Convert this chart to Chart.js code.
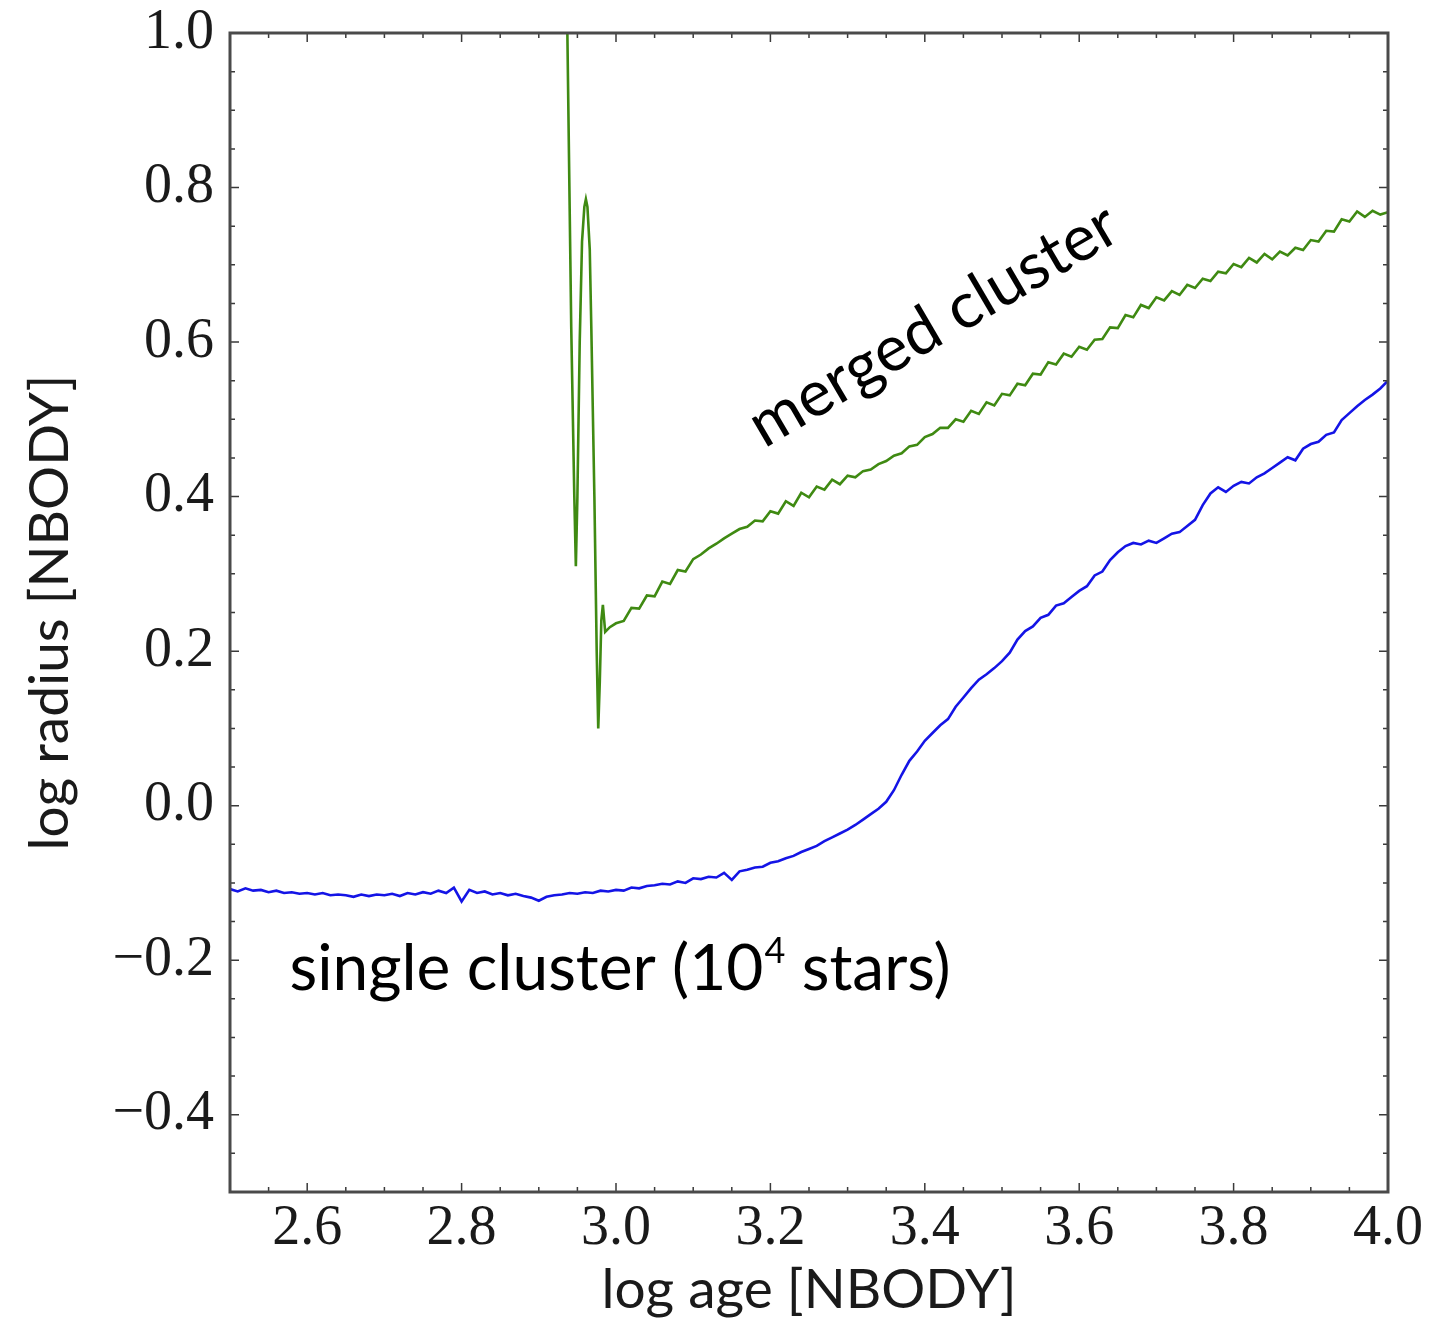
<!DOCTYPE html>
<html>
<head>
<meta charset="utf-8">
<script src="https://cdn.jsdelivr.net/npm/chart.js@4.4.1/dist/chart.umd.min.js"></script>
<style>
  body { margin: 0; background: #fff; }
  #wrap { width: 1438px; height: 1326px; position: relative; }
</style>
</head>
<body>
<div id="wrap"><canvas id="chart"></canvas></div>
<script>
// Axis ticks
const xTicks = [2.6, 2.8, 3.0, 3.2, 3.4, 3.6, 3.8, 4.0];
const yTicks = [-0.4, -0.2, 0.0, 0.2, 0.4, 0.6, 0.8, 1.0];

// single cluster (10^4 stars): [log age, log radius]
const singleCluster = [
  [2.50,-0.108],[2.51,-0.111],[2.52,-0.107],[2.53,-0.110],[2.54,-0.109],[2.55,-0.112],[2.56,-0.110],[2.57,-0.113],
  [2.58,-0.112],[2.59,-0.114],[2.60,-0.113],[2.61,-0.115],[2.62,-0.113],[2.63,-0.116],[2.64,-0.115],[2.65,-0.116],
  [2.66,-0.118],[2.67,-0.115],[2.68,-0.117],[2.69,-0.115],[2.70,-0.116],[2.71,-0.114],[2.72,-0.117],[2.73,-0.113],
  [2.74,-0.115],[2.75,-0.112],[2.76,-0.114],[2.77,-0.110],[2.78,-0.113],[2.79,-0.106],[2.80,-0.124],[2.81,-0.109],
  [2.82,-0.113],[2.83,-0.111],[2.84,-0.115],[2.85,-0.113],[2.86,-0.116],[2.87,-0.114],[2.88,-0.117],[2.89,-0.119],
  [2.90,-0.123],[2.91,-0.118],[2.92,-0.116],[2.93,-0.115],[2.94,-0.113],[2.95,-0.114],[2.96,-0.112],[2.97,-0.113],
  [2.98,-0.110],[2.99,-0.111],[3.00,-0.109],[3.01,-0.110],[3.02,-0.106],[3.03,-0.107],[3.04,-0.104],[3.05,-0.103],
  [3.06,-0.101],[3.07,-0.102],[3.08,-0.098],[3.09,-0.100],[3.10,-0.094],[3.11,-0.095],[3.12,-0.092],[3.13,-0.093],
  [3.14,-0.087],[3.15,-0.096],[3.16,-0.085],[3.17,-0.083],[3.18,-0.080],[3.19,-0.079],[3.20,-0.074],[3.21,-0.072],
  [3.22,-0.068],[3.23,-0.065],[3.24,-0.060],[3.25,-0.056],[3.26,-0.052],[3.27,-0.046],[3.28,-0.041],[3.29,-0.036],
  [3.30,-0.031],[3.31,-0.025],[3.32,-0.018],[3.33,-0.011],[3.34,-0.004],[3.35,0.005],[3.36,0.020],[3.37,0.040],
  [3.38,0.058],[3.39,0.070],[3.40,0.084],[3.41,0.094],[3.42,0.104],[3.43,0.112],[3.44,0.128],[3.45,0.140],
  [3.46,0.152],[3.47,0.163],[3.48,0.170],[3.49,0.178],[3.50,0.187],[3.51,0.198],[3.52,0.215],[3.53,0.226],
  [3.54,0.232],[3.55,0.243],[3.56,0.247],[3.57,0.259],[3.58,0.262],[3.59,0.270],[3.60,0.278],[3.61,0.284],
  [3.62,0.298],[3.63,0.303],[3.64,0.318],[3.65,0.328],[3.66,0.336],[3.67,0.340],[3.68,0.338],[3.69,0.343],
  [3.70,0.340],[3.71,0.346],[3.72,0.352],[3.73,0.354],[3.74,0.362],[3.75,0.370],[3.76,0.389],[3.77,0.404],
  [3.78,0.412],[3.79,0.406],[3.80,0.414],[3.81,0.419],[3.82,0.417],[3.83,0.425],[3.84,0.430],[3.85,0.437],
  [3.86,0.444],[3.87,0.451],[3.88,0.447],[3.89,0.462],[3.90,0.468],[3.91,0.471],[3.92,0.480],[3.93,0.483],
  [3.94,0.499],[3.95,0.508],[3.96,0.517],[3.97,0.525],[3.98,0.532],[3.99,0.540],[4.00,0.550]
];

// merged cluster: [log age, log radius]
const mergedCluster = [
  [2.937,1.000],[2.942,0.620],[2.946,0.400],[2.948,0.310],[2.950,0.400],[2.953,0.600],[2.956,0.730],[2.959,0.775],
  [2.961,0.785],[2.963,0.775],[2.966,0.720],[2.968,0.620],[2.972,0.400],[2.975,0.200],[2.977,0.100],[2.979,0.160],
  [2.981,0.240],[2.983,0.260],[2.986,0.225],[2.992,0.231],
  [3.00,0.236],[3.01,0.239],[3.02,0.256],[3.03,0.255],[3.04,0.272],[3.05,0.271],[3.06,0.290],[3.07,0.287],
  [3.08,0.305],[3.09,0.303],[3.10,0.319],[3.11,0.325],[3.12,0.333],[3.13,0.339],[3.14,0.346],[3.15,0.352],
  [3.16,0.358],[3.17,0.361],[3.18,0.369],[3.19,0.368],[3.20,0.381],[3.21,0.378],[3.22,0.394],[3.23,0.388],
  [3.24,0.405],[3.25,0.399],[3.26,0.413],[3.27,0.409],[3.28,0.422],[3.29,0.416],[3.30,0.427],[3.31,0.425],
  [3.32,0.433],[3.33,0.435],[3.34,0.442],[3.35,0.446],[3.36,0.453],[3.37,0.456],[3.38,0.465],[3.39,0.467],
  [3.40,0.477],[3.41,0.481],[3.42,0.489],[3.43,0.489],[3.44,0.500],[3.45,0.497],[3.46,0.511],[3.47,0.507],
  [3.48,0.522],[3.49,0.518],[3.50,0.533],[3.51,0.531],[3.52,0.546],[3.53,0.544],[3.54,0.559],[3.55,0.558],
  [3.56,0.574],[3.57,0.571],[3.58,0.585],[3.59,0.581],[3.60,0.594],[3.61,0.590],[3.62,0.603],[3.63,0.604],
  [3.64,0.619],[3.65,0.618],[3.66,0.635],[3.67,0.632],[3.68,0.648],[3.69,0.644],[3.70,0.658],[3.71,0.654],
  [3.72,0.666],[3.73,0.661],[3.74,0.674],[3.75,0.670],[3.76,0.682],[3.77,0.679],[3.78,0.691],[3.79,0.689],
  [3.80,0.701],[3.81,0.697],[3.82,0.709],[3.83,0.703],[3.84,0.714],[3.85,0.707],[3.86,0.717],[3.87,0.712],
  [3.88,0.722],[3.89,0.719],[3.90,0.732],[3.91,0.730],[3.92,0.744],[3.93,0.743],[3.94,0.759],[3.95,0.756],
  [3.96,0.769],[3.97,0.762],[3.98,0.770],[3.99,0.765],[4.00,0.768]
];

const toPoints = arr => arr.map(p => ({ x: p[0], y: p[1] }));
const fmt = v => v.toFixed(1).replace('-', '\u2212');

// frame, inward major/minor ticks on all sides, and the text labels
const framePlugin = {
  id: 'frame',
  afterDraw(chart) {
    const { ctx, chartArea: a, scales: { x, y } } = chart;
    ctx.save();
    ctx.strokeStyle = '#3a3a3a';
    ctx.lineWidth = 1.5;
    for (let i = 0; i <= 30; i++) {
      const v = 2.5 + i * 0.05;
      const px = x.getPixelForValue(v);
      const len = i % 4 === 2 ? 9 : 5;
      ctx.beginPath();
      ctx.moveTo(px, a.bottom); ctx.lineTo(px, a.bottom - len);
      ctx.moveTo(px, a.top); ctx.lineTo(px, a.top + len);
      ctx.stroke();
    }
    for (let i = 0; i <= 30; i++) {
      const v = -0.5 + i * 0.05;
      const py = y.getPixelForValue(v);
      const len = i % 4 === 2 ? 9 : 5;
      ctx.beginPath();
      ctx.moveTo(a.left, py); ctx.lineTo(a.left + len, py);
      ctx.moveTo(a.right, py); ctx.lineTo(a.right - len, py);
      ctx.stroke();
    }
    ctx.strokeStyle = '#4a4a4a';
    ctx.lineWidth = 3;
    ctx.strokeRect(a.left, a.top, a.right - a.left, a.bottom - a.top);

    // curve labels
    ctx.fillStyle = '#000';
    ctx.textBaseline = 'alphabetic';
    ctx.font = '64px Lato';
    let tx = x.getPixelForValue(2.577), ty = y.getPixelForValue(-0.239);
    const part1 = 'single cluster (10';
    ctx.fillText(part1, tx, ty);
    tx += ctx.measureText(part1).width + 1;
    ctx.font = '36px Lato';
    ctx.fillText('4', tx, ty - 27);
    tx += ctx.measureText('4').width;
    ctx.font = '64px Lato';
    ctx.fillText(' stars)', tx, ty);

    ctx.translate(x.getPixelForValue(3.192), y.getPixelForValue(0.462));
    ctx.rotate(-30.4 * Math.PI / 180);
    ctx.fillText('merged cluster', 0, 0);
    ctx.restore();
  }
};

new Chart(document.getElementById('chart'), {
  type: 'line',
  data: {
    datasets: [
      { label: 'single cluster', data: toPoints(singleCluster), borderColor: '#1414e6', borderWidth: 2.6 },
      { label: 'merged cluster', data: toPoints(mergedCluster), borderColor: '#3f8a12', borderWidth: 2.6 }
    ]
  },
  options: {
    responsive: true,
    maintainAspectRatio: false,
    animation: false,
    layout: { padding: { left: 0, top: 33, right: 50, bottom: 0 } },
    elements: { point: { radius: 0 }, line: { tension: 0 } },
    plugins: { legend: { display: false }, tooltip: { enabled: false } },
    scales: {
      x: {
        type: 'linear', min: 2.5, max: 4.0,
        afterFit: s => { s.height = 134; s.paddingLeft = 0; s.paddingRight = 0; },
        afterBuildTicks: s => { s.ticks = xTicks.map(v => ({ value: v })); },
        grid: { display: false, drawTicks: false },
        border: { display: false },
        ticks: { color: '#1a1a1a', padding: 4, maxRotation: 0, autoSkip: false,
                 font: { family: 'Liberation Serif', size: 56 }, callback: v => fmt(v) },
        title: { display: true, text: 'log age [NBODY]', color: '#1a1a1a',
                 font: { family: 'Lato', size: 55 }, padding: { top: 0, bottom: 3 } }
      },
      y: {
        type: 'linear', min: -0.5, max: 1.0,
        afterFit: s => { s.width = 230; s.paddingTop = 0; s.paddingBottom = 0; },
        afterBuildTicks: s => { s.ticks = yTicks.map(v => ({ value: v })); },
        grid: { display: false, drawTicks: false },
        border: { display: false },
        ticks: { color: '#1a1a1a', padding: 16, autoSkip: false,
                 font: { family: 'Liberation Serif', size: 56 }, callback: v => fmt(v) },
        title: { display: true, text: 'log radius [NBODY]', color: '#1a1a1a',
                 font: { family: 'Lato', size: 55 }, padding: { top: 17, bottom: 0 } }
      }
    }
  },
  plugins: [framePlugin]
});
</script>
</body>
</html>
